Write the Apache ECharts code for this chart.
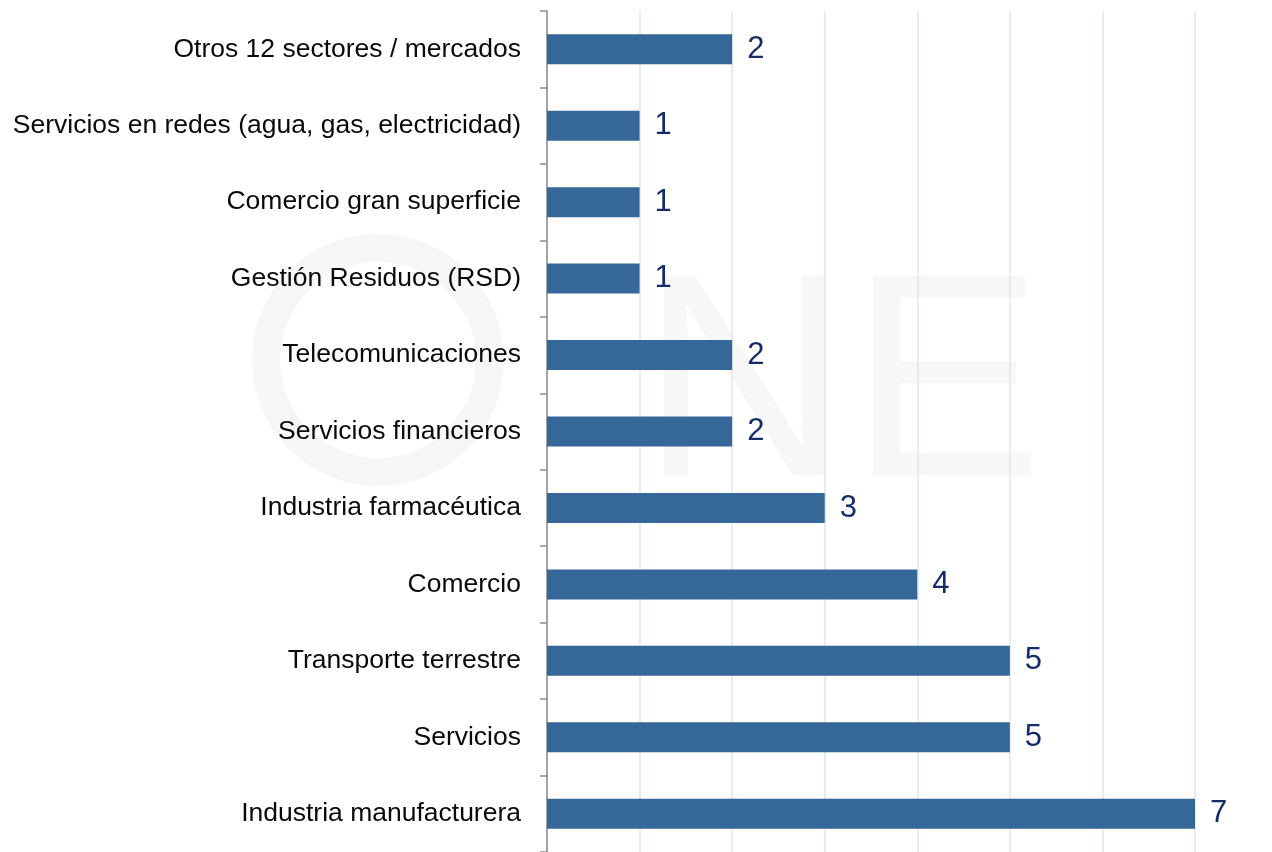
<!DOCTYPE html>
<html>
<head>
<meta charset="utf-8">
<script src="https://cdn.jsdelivr.net/npm/echarts@6/dist/echarts.min.js"></script>
<style>
html,body{margin:0;padding:0;background:#fff;}
#chart{width:1272px;height:852px;}
</style>
</head>
<body>
<div id="chart"></div>
<script>
// Categories listed bottom to top
var categories = [
  "Industria manufacturera",
  "Servicios",
  "Transporte terrestre",
  "Comercio",
  "Industria farmacéutica",
  "Servicios financieros",
  "Telecomunicaciones",
  "Gestión Residuos (RSD)",
  "Comercio gran superficie",
  "Servicios en redes (agua, gas, electricidad)",
  "Otros 12 sectores / mercados"
];
var values = [7, 5, 5, 4, 3, 2, 2, 1, 1, 1, 2];
var axisMin = 0;
var axisMax = 7;
var axisStep = 1;

var chart = echarts.init(document.getElementById('chart'), null, {renderer: 'canvas'});
chart.setOption({
  backgroundColor: '#ffffff',
  animation: false,
  graphic: [
    {type: 'circle', z: -10, shape: {cx: 378, cy: 360, r: 112},
     style: {fill: 'none', stroke: '#f6f6f6', lineWidth: 28}},
    {type: 'text', z: -10, style: {x: 640, y: 250, text: 'NE', font: '300 290px "Liberation Sans"', fill: '#f7f7f7'}}
  ],
  grid: {left: 547, right: 77, top: 11, bottom: 0, containLabel: false},
  xAxis: {
    type: 'value',
    min: axisMin, max: axisMax, interval: axisStep,
    axisLine: {show: false},
    axisTick: {show: false},
    axisLabel: {show: false},
    splitLine: {show: true, lineStyle: {color: '#dce6f2', width: 1.5}}
  },
  yAxis: {
    type: 'category',
    data: categories,
    axisLine: {show: true, lineStyle: {color: '#8c8c8c', width: 1.5}},
    axisTick: {show: true, length: 7, lineStyle: {color: '#8c8c8c', width: 1.5}},
    axisLabel: {
      margin: 26,
      color: '#0a0a0a',
      fontFamily: '"Liberation Sans", Arial, sans-serif',
      fontSize: 26.5,
      padding: [4, 0, 0, 0]
    }
  },
  series: [{
    type: 'bar',
    data: values,
    barWidth: 30,
    itemStyle: {color: '#356899'},
    label: {
      show: true,
      position: 'right',
      distance: 15,
      color: '#142d6a',
      fontFamily: '"Liberation Sans", Arial, sans-serif',
      fontSize: 31,
      padding: [5, 0, 0, 0]
    }
  }]
});
</script>
</body>
</html>
